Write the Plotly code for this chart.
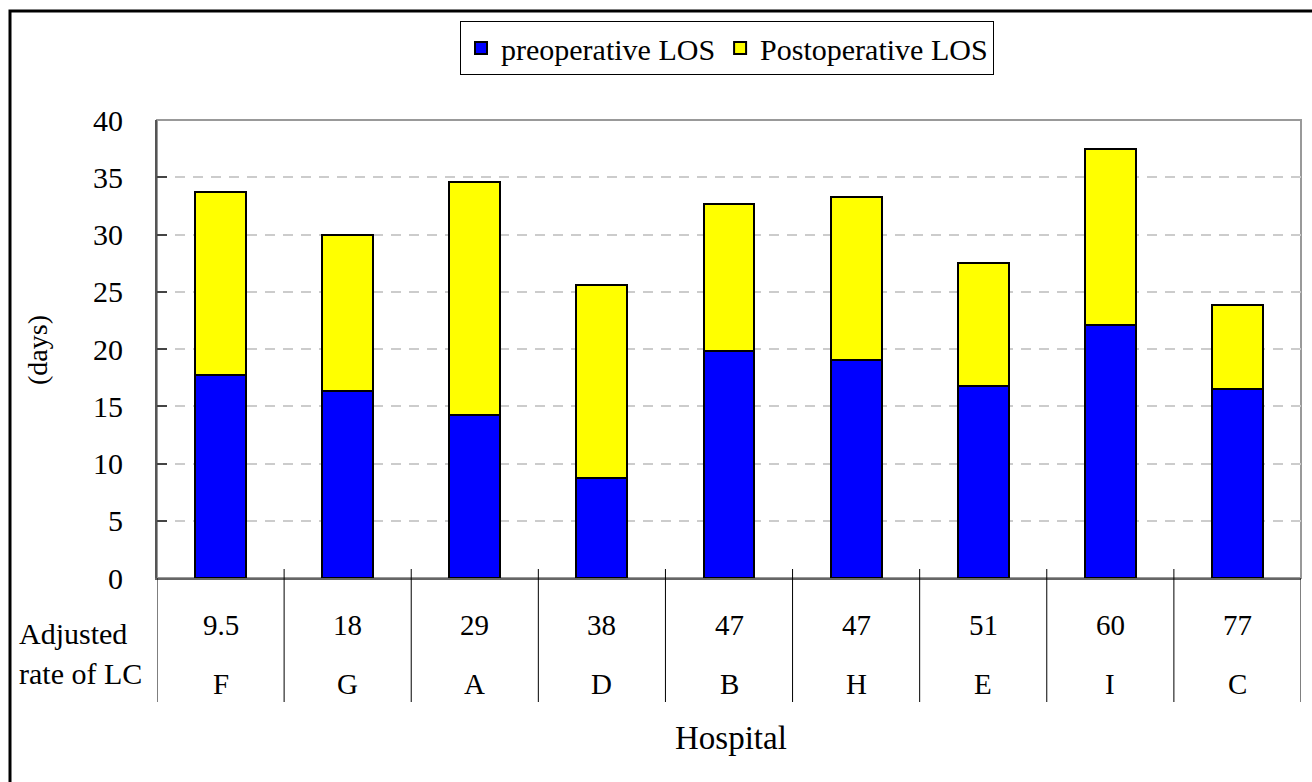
import plotly.graph_objects as go

hospitals = ["F", "G", "A", "D", "B", "H", "E", "I", "C"]
adjusted_rate = ["9.5", "18", "29", "38", "47", "47", "51", "60", "77"]
pre_los = [17.7, 16.3, 14.2, 8.7, 19.8, 19.0, 16.8, 22.1, 16.5]
post_los = [16.0, 13.7, 20.4, 16.9, 12.9, 14.3, 10.7, 15.4, 7.3]
y_ticks = [0, 5, 10, 15, 20, 25, 30, 35, 40]

FONT = "Liberation Serif"
W, H = 1312, 782
L, R, T, B = 157, 11, 120, 204
PW, PH = W - L - R, H - T - B


def px_x(p):
    return (p - L) / PW


def px_y(p):
    return (H - B - p) / PH


fig = go.Figure()
fig.add_trace(go.Bar(
    x=list(range(len(hospitals))), y=pre_los, name="preoperative LOS",
    marker=dict(color="#0000FF", line=dict(color="black", width=2)),
    width=0.4,
))
fig.add_trace(go.Bar(
    x=list(range(len(hospitals))), y=post_los, name="Postoperative LOS",
    marker=dict(color="#FFFF00", line=dict(color="black", width=2)),
    width=0.4,
))

shapes = []
# plot area border (top/right grey)
shapes.append(dict(type="rect", xref="paper", yref="paper", x0=0, x1=1, y0=0, y1=1,
                   line=dict(color="#999999", width=2), layer="below"))
# outer frame
shapes.append(dict(type="rect", xref="paper", yref="paper",
                   x0=px_x(10), x1=px_x(1330), y0=px_y(800), y1=px_y(11),
                   line=dict(color="black", width=3)))
# table separators
n = len(hospitals)
for i in range(n + 1):
    top = px_y(569) if 0 < i < n else 0
    shapes.append(dict(type="line", xref="x", yref="paper",
                       x0=i - 0.5, x1=i - 0.5, y0=px_y(702), y1=top,
                       line=dict(color="black", width=1)))

annotations = []
for i, (h, r) in enumerate(zip(hospitals, adjusted_rate)):
    annotations.append(dict(x=i, y=px_y(625), xref="x", yref="paper", text=r,
                            showarrow=False, font=dict(family=FONT, size=29, color="black"),
                            xanchor="center", yanchor="middle"))
    annotations.append(dict(x=i, y=px_y(684), xref="x", yref="paper", text=h,
                            showarrow=False, font=dict(family=FONT, size=29, color="black"),
                            xanchor="center", yanchor="middle"))
annotations.append(dict(x=px_x(17), y=px_y(633), xref="paper", yref="paper", text="Adjusted",
                        showarrow=False, font=dict(family=FONT, size=30, color="black"),
                        xanchor="left", yanchor="middle"))
annotations.append(dict(x=px_x(17), y=px_y(673), xref="paper", yref="paper", text="rate of LC",
                        showarrow=False, font=dict(family=FONT, size=30, color="black"),
                        xanchor="left", yanchor="middle"))
annotations.append(dict(x=px_x(731), y=px_y(738), xref="paper", yref="paper", text="Hospital",
                        showarrow=False, font=dict(family=FONT, size=33, color="black"),
                        xanchor="center", yanchor="middle"))
annotations.append(dict(x=px_x(37), y=px_y(350), xref="paper", yref="paper", text="(days)",
                        showarrow=False, textangle=-90, font=dict(family=FONT, size=28, color="black"),
                        xanchor="center", yanchor="middle"))

fig.update_layout(
    width=W, height=H,
    margin=dict(l=L, r=R, t=T, b=B, pad=0),
    barmode="stack",
    paper_bgcolor="white", plot_bgcolor="white",
    font=dict(family=FONT, size=28, color="black"),
    showlegend=True,
    legend=dict(orientation="h", x=px_x(727), xanchor="center", y=px_y(21), yanchor="top",
                bordercolor="black", borderwidth=1, bgcolor="white",
                font=dict(family=FONT, size=30, color="black"),
                traceorder="normal", itemwidth=30, tracegroupgap=0),
    xaxis=dict(range=[-0.5, n - 0.5], showticklabels=False, ticks="", showgrid=False,
               zeroline=False, showline=True, linecolor="#666666", linewidth=2),
    yaxis=dict(range=[0, 40], tickvals=y_ticks, ticks="inside", ticklen=10, tickwidth=2,
               tickcolor="#444444", showline=True, linecolor="#555555", linewidth=2,
               showgrid=True, gridcolor="#cccccc", gridwidth=1.5, griddash="10px,8px",
               zeroline=False, ticklabelstandoff=26,
               tickfont=dict(family=FONT, size=30, color="black")),
    shapes=shapes,
    annotations=annotations,
)

fig.write_html("out.html", config={"displayModeBar": False},
               post_script="document.body.style.margin='0';document.body.style.padding='0';")
